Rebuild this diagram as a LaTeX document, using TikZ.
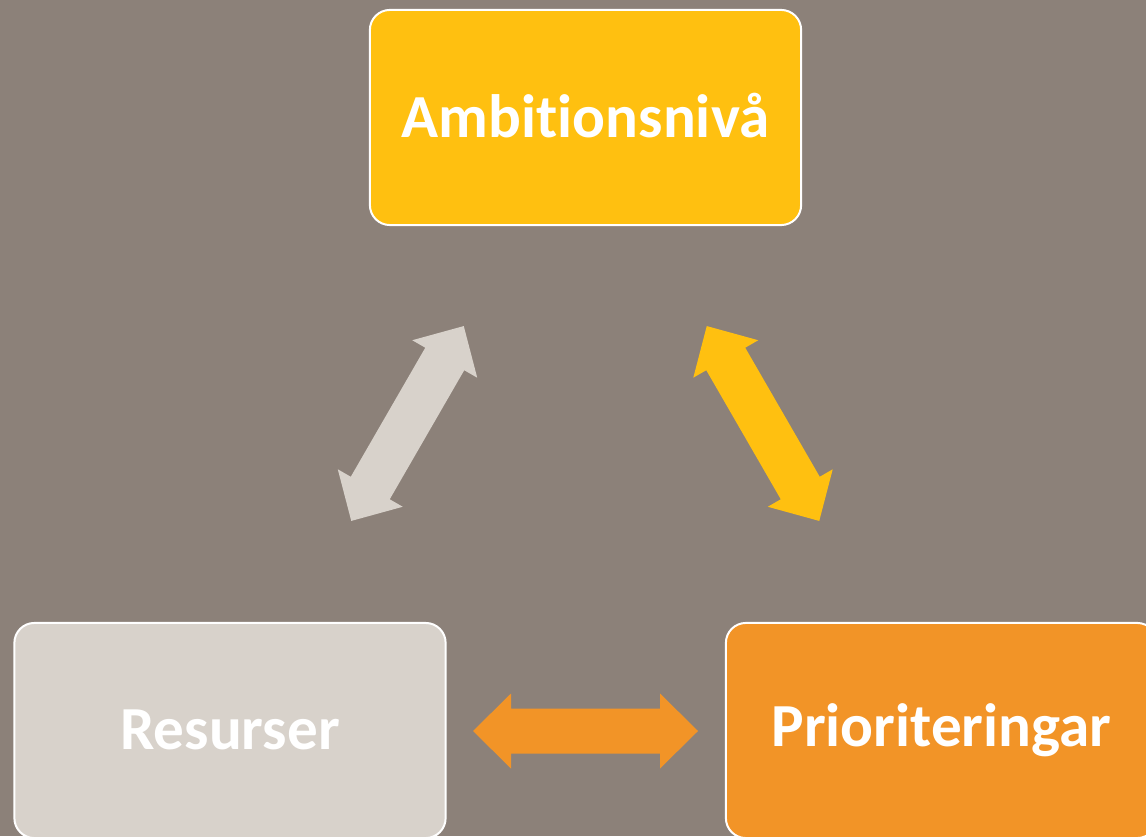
\documentclass[tikz,border=0pt]{standalone}
\usepackage{fontspec}
\setmainfont{Carlito}[Ligatures=NoCommon]
\definecolor{bgc}{HTML}{8C8179}
\definecolor{goldc}{HTML}{FFC010}
\definecolor{orangec}{HTML}{F29427}
\definecolor{greyc}{HTML}{D8D2CB}
\tikzset{
  box/.style={rectangle, rounded corners=0.2cm, draw=white, line width=0.02cm,
    minimum width=4.31cm, minimum height=2.15cm, text=white,
    font=\fontsize{17.4}{20}\selectfont\bfseries, inner sep=0pt},
  dblarrow/.pic={\fill[#1] (-112.5,0) -- (-74.5,37.5) -- (-74.5,22.5) -- (74.5,22.5)
    -- (74.5,37.5) -- (112.5,0) -- (74.5,-37.5) -- (74.5,-22.5) -- (-74.5,-22.5)
    -- (-74.5,-37.5) -- cycle;}
}
\begin{document}
\begin{tikzpicture}[x=0.01cm,y=0.01cm]
\useasboundingbox (0,0) rectangle (1146,836);
\clip (0,0) rectangle (1146,836);
\fill[bgc] (0,0) rectangle (1146,836);
\node[box, fill=goldc] (amb) at (585.5,718.5) {\raisebox{0.04cm}{Ambitionsnivå}};
\node[box, fill=greyc] (res) at (230,105.5) {\raisebox{0.02cm}{Resurser}};
\node[box, fill=orangec] (pri) at (941.5,105.5) {\raisebox{0.02cm}{Prioriteringar}};
\pic[rotate=60] (a1) at (407.5,412.5) {dblarrow=greyc};
\pic[rotate=120] (a2) at (763,412.5) {dblarrow=goldc};
\pic (a3) at (585.5,105) {dblarrow=orangec};
\end{tikzpicture}
\end{document}
